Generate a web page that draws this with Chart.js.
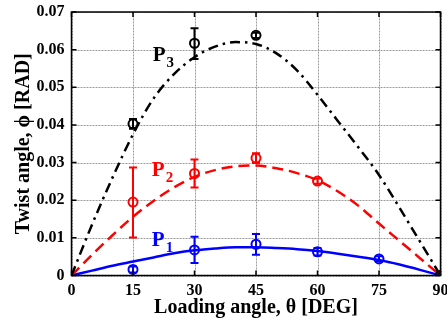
<!DOCTYPE html>
<html>
<head>
<meta charset="utf-8">
<script src="https://cdn.jsdelivr.net/npm/chart.js@4.4.1/dist/chart.umd.min.js"></script>
<style>
  html, body { margin: 0; padding: 0; background: #fff; }
  #wrap { width: 447px; height: 329px; }
</style>
</head>
<body>
<div id="wrap"><canvas id="grafico" width="447" height="329"></canvas></div>
<script>
// Ângulos onde as curvas ajustadas foram lidas
const anguloCurva = [0, 5, 10, 15, 20, 25, 30, 35, 40, 45, 50, 55, 60, 65, 70, 75, 80, 85, 90];
const curvaP1 = [0, 0.0013, 0.0026, 0.0037, 0.0048, 0.0059, 0.0067, 0.0072, 0.0075, 0.0075, 0.0073, 0.0070, 0.0065, 0.0058, 0.0050, 0.0041, 0.0029, 0.0015, 0];
const curvaP2 = [0, 0.0055, 0.0107, 0.0156, 0.0198, 0.0234, 0.0262, 0.0280, 0.0290, 0.0292, 0.0285, 0.0272, 0.0253, 0.0223, 0.0185, 0.0138, 0.0092, 0.0046, 0];
const curvaP3 = [0, 0.0135, 0.0260, 0.0375, 0.0470, 0.0535, 0.0580, 0.0608, 0.0620, 0.0615, 0.0590, 0.0545, 0.0480, 0.0410, 0.0340, 0.0267, 0.0180, 0.0090, 0];

// Medidas (com barras de erro)
const anguloP1 = [15, 30, 45, 60, 75, 90];
const medidaP1 = [0.0016, 0.0068, 0.0083, 0.0063, 0.0044, 0];
const erroBaixoP1 = [0.0008, 0.0033, 0.0055, 0.0053, 0.0037, 0];
const erroAltoP1 = [0.0024, 0.0103, 0.0110, 0.0073, 0.0051, 0];

const anguloP2 = [15, 30, 45, 60, 90];
const medidaP2 = [0.0195, 0.0271, 0.0312, 0.0251, 0];
const erroBaixoP2 = [0.0101, 0.0234, 0.0299, 0.0244, 0];
const erroAltoP2 = [0.0287, 0.0308, 0.0325, 0.0258, 0];

const anguloP3 = [15, 30, 45, 90];
const medidaP3 = [0.0403, 0.0617, 0.0638, 0];
const erroBaixoP3 = [0.0390, 0.0575, 0.0631, 0];
const erroAltoP3 = [0.0416, 0.0657, 0.0645, 0];

const xTicks = [0, 15, 30, 45, 60, 75, 90];
const yTickLabels = ['0', '0.01', '0.02', '0.03', '0.04', '0.05', '0.06', '0.07'];

const fonte = '"Liberation Serif", "Times New Roman", serif';

function pontos(xs, ys) {
    return xs.map((x, i) => ({ x: x, y: ys[i] }));
}

const series = [
    { nome: '1', cor: '#0000ff', angulos: anguloP1, baixo: erroBaixoP1, alto: erroAltoP1, rotulo: [19.6, 0.0078] },
    { nome: '2', cor: '#ff0000', angulos: anguloP2, baixo: erroBaixoP2, alto: erroAltoP2, rotulo: [19.6, 0.0265] },
    { nome: '3', cor: '#000000', angulos: anguloP3, baixo: erroBaixoP3, alto: erroAltoP3, rotulo: [19.8, 0.0570] }
];

// Grade: linha cinza fina, desenhada antes das curvas
function desenhaGrade(chart) {
    const ctx = chart.ctx;
    const a = chart.chartArea;
    const sx = chart.scales.x, sy = chart.scales.y;
    ctx.save();
    ctx.strokeStyle = '#9a9a9a';
    ctx.lineWidth = 1;
    ctx.setLineDash([2, 1]);
    ctx.beginPath();
    xTicks.forEach(v => {
        const px = Math.round(sx.getPixelForValue(v)) + 0.5;
        ctx.moveTo(px, a.bottom); ctx.lineTo(px, a.top);
    });
    yTickLabels.forEach((t, i) => {
        const py = Math.round(sy.getPixelForValue(i * 0.01)) + 0.5;
        ctx.moveTo(a.left, py); ctx.lineTo(a.right, py);
    });
    ctx.stroke();
    ctx.restore();
}

// Barras de erro
function desenhaErros(chart) {
    const ctx = chart.ctx;
    const sx = chart.scales.x, sy = chart.scales.y;
    series.forEach(s => {
        ctx.save();
        ctx.strokeStyle = s.cor;
        ctx.lineWidth = 2;
        s.angulos.forEach((a, i) => {
            if (s.alto[i] === s.baixo[i]) return;
            const px = sx.getPixelForValue(a);
            const y1 = sy.getPixelForValue(s.baixo[i]);
            const y2 = sy.getPixelForValue(s.alto[i]);
            ctx.beginPath();
            ctx.moveTo(px, y1); ctx.lineTo(px, y2);
            ctx.moveTo(px - 4, y1); ctx.lineTo(px + 4, y1);
            ctx.moveTo(px - 4, y2); ctx.lineTo(px + 4, y2);
            ctx.stroke();
        });
        ctx.restore();
    });
}

const extras = {
    id: 'extras',
    beforeDatasetsDraw(chart) {
        desenhaGrade(chart);
    },
    afterDatasetsDraw(chart) {
        desenhaErros(chart);
    },
    // Moldura com marcas para dentro e rótulos P1, P2, P3
    afterDraw(chart) {
        const ctx = chart.ctx;
        const a = chart.chartArea;
        const sx = chart.scales.x, sy = chart.scales.y;
        ctx.save();
        ctx.strokeStyle = '#000';
        ctx.lineWidth = 1.5;
        ctx.strokeRect(a.left, a.top, a.right - a.left, a.bottom - a.top);
        ctx.beginPath();
        xTicks.forEach(v => {
            const px = sx.getPixelForValue(v);
            ctx.moveTo(px, a.bottom); ctx.lineTo(px, a.bottom - 5);
            ctx.moveTo(px, a.top); ctx.lineTo(px, a.top + 5);
        });
        yTickLabels.forEach((t, i) => {
            const py = sy.getPixelForValue(i * 0.01);
            ctx.moveTo(a.left, py); ctx.lineTo(a.left + 5, py);
            ctx.moveTo(a.right, py); ctx.lineTo(a.right - 5, py);
        });
        ctx.stroke();

        series.forEach(s => {
            const px = sx.getPixelForValue(s.rotulo[0]);
            const py = sy.getPixelForValue(s.rotulo[1]);
            ctx.fillStyle = s.cor;
            ctx.textBaseline = 'alphabetic';
            ctx.textAlign = 'left';
            ctx.font = 'bold 21px ' + fonte;
            ctx.fillText('P', px, py);
            const w = ctx.measureText('P').width;
            ctx.font = 'bold 15px ' + fonte;
            ctx.fillText(s.nome, px + w + 1, py + 6);
        });
        ctx.restore();
    }
};

const config = {
    type: 'scatter',
    data: {
        datasets: [
            { data: pontos(anguloCurva, curvaP3), showLine: true, borderColor: '#000', borderWidth: 2.5, borderDash: [10, 5, 2.5, 5], pointRadius: 0, cubicInterpolationMode: 'monotone', order: 3 },
            { data: pontos(anguloCurva, curvaP2), showLine: true, borderColor: '#ff0000', borderWidth: 2.5, borderDash: [11, 6], pointRadius: 0, cubicInterpolationMode: 'monotone', order: 3 },
            { data: pontos(anguloCurva, curvaP1), showLine: true, borderColor: '#0000ff', borderWidth: 2.5, pointRadius: 0, cubicInterpolationMode: 'monotone', order: 3 },
            { data: pontos(anguloP3, medidaP3), showLine: false, borderColor: '#000', backgroundColor: 'rgba(0,0,0,0)', pointRadius: 4.5, borderWidth: 2, order: 1 },
            { data: pontos(anguloP2, medidaP2), showLine: false, borderColor: '#ff0000', backgroundColor: 'rgba(0,0,0,0)', pointRadius: 4.5, borderWidth: 2, order: 1 },
            { data: pontos(anguloP1, medidaP1), showLine: false, borderColor: '#0000ff', backgroundColor: 'rgba(0,0,0,0)', pointRadius: 4.5, borderWidth: 2, order: 1 }
        ]
    },
    options: {
        responsive: false,
        animation: false,
        layout: { padding: { left: 0, right: 5, top: 12, bottom: 0 } },
        plugins: { legend: { display: false }, tooltip: { enabled: false } },
        scales: {
            x: {
                type: 'linear', min: 0, max: 90,
                afterBuildTicks: s => { s.ticks = xTicks.map(v => ({ value: v })); },
                afterFit: s => { s.height = 53.5; s.paddingLeft = 0; s.paddingRight = 0; },
                grid: { display: false, drawTicks: false },
                border: { display: false },
                ticks: { color: '#000', padding: 6, font: { family: fonte, size: 16, weight: 'bold' } },
                title: { display: true, text: 'Loading angle, θ [DEG]', color: '#000', padding: { top: 2, bottom: 9 }, font: { family: fonte, size: 20, weight: 'bold' } }
            },
            y: {
                min: 0, max: 0.07,
                afterBuildTicks: s => { s.ticks = yTickLabels.map((t, i) => ({ value: i * 0.01 })); },
                afterFit: s => { s.width = 71.5; s.paddingTop = 0; s.paddingBottom = 0; },
                grid: { display: false, drawTicks: false },
                border: { display: false },
                ticks: { color: '#000', padding: 7, callback: (v, i) => yTickLabels[i], font: { family: fonte, size: 16, weight: 'bold' } },
                title: { display: true, text: 'Twist angle, ϕ [RAD]', color: '#000', padding: { top: 12, bottom: 0 }, font: { family: fonte, size: 20, weight: 'bold' } }
            }
        }
    },
    plugins: [extras]
};

const ctxGrafico = document.getElementById('grafico').getContext('2d');
const chartGrafico = new Chart(ctxGrafico, config);
</script>
</body>
</html>
